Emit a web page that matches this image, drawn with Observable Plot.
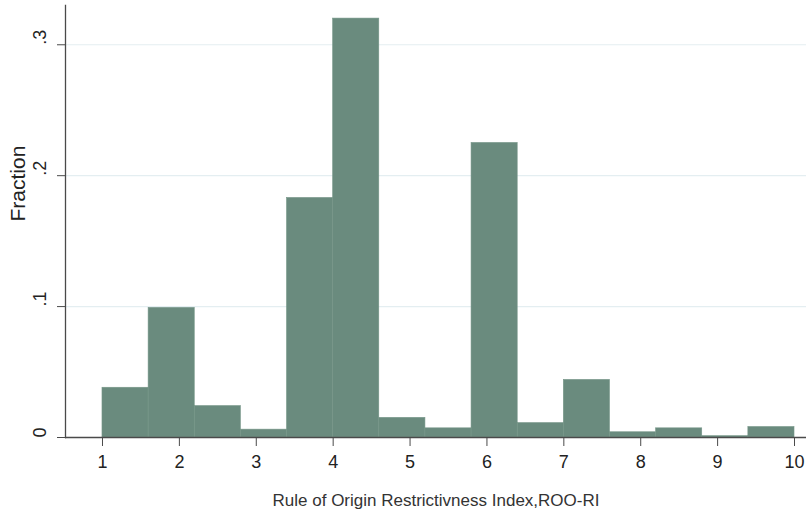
<!DOCTYPE html>
<html><head><meta charset="utf-8">
<script src="https://cdn.jsdelivr.net/npm/d3@7"></script>
<script src="https://cdn.jsdelivr.net/npm/@observablehq/plot@0.6"></script>
<style>body{margin:0;background:#fff}</style>
</head><body><div id="chart"></div>
<script>
const binStart = [1.0, 1.6, 2.2, 2.8, 3.4, 4.0, 4.6, 5.2, 5.8, 6.4, 7.0, 7.6, 8.2, 8.8, 9.4];
const binEnd   = [1.6, 2.2, 2.8, 3.4, 4.0, 4.6, 5.2, 5.8, 6.4, 7.0, 7.6, 8.2, 8.8, 9.4, 10.0];
const fraction = [0.038, 0.099, 0.024, 0.006, 0.183, 0.320, 0.015, 0.007, 0.225, 0.011, 0.044, 0.004, 0.007, 0.001, 0.008];
const xTicks = [1, 2, 3, 4, 5, 6, 7, 8, 9, 10];
const yTicks = [0, 0.1, 0.2, 0.3];
const yTickLabels = ["0", ".1", ".2", ".3"];
const gridTicks = [0.1, 0.2, 0.3];
const xLabel = "Rule of Origin Restrictivness Index,ROO-RI";
const yLabel = "Fraction";

const bins = binStart.map((s, i) => ({x1: s, x2: binEnd[i], y: fraction[i]}));

const chart = Plot.plot({
  width: 806,
  height: 519,
  marginLeft: 65,
  marginRight: 0,
  marginTop: 5,
  marginBottom: 82,
  style: {fontFamily: "'Liberation Sans', Arial, sans-serif", fontSize: "17px", color: "#222", background: "#fff"},
  x: {domain: [0.519, 10.156]},
  y: {domain: [0, 0.33]},
  marks: [
    Plot.ruleY(gridTicks, {stroke: "#e4eef1", strokeWidth: 1.2}),
    Plot.rectY(bins, {x1: "x1", x2: "x2", y: "y", fill: "#6a8b7e", stroke: "#769688", strokeWidth: 0.6}),
    Plot.ruleY([0], {stroke: "#4a4a4a", strokeWidth: 1.3}),
    Plot.frame({anchor: "left", stroke: "#4a4a4a", strokeWidth: 1.3}),
    Plot.axisX({ticks: xTicks, tickSize: 9, tickPadding: 9, tickFormat: d => String(d), label: null, stroke: "#4a4a4a", fontSize: 18}),
    Plot.axisY({ticks: yTicks, tickSize: 8, tickFormat: () => "", label: null, stroke: "#4a4a4a"}),
    Plot.text(yTicks, {y: d => d, text: (d, i) => yTickLabels[i], frameAnchor: "left", dx: -25, rotate: -90, fontSize: 18, fill: "#222"}),
    Plot.text([yLabel], {text: d => d, frameAnchor: "left", dx: -47, rotate: -90, fontSize: 21, fill: "#222"}),
    Plot.text([xLabel], {text: d => d, frameAnchor: "bottom", dy: 68, fontSize: 17, fill: "#333"})
  ]
});
document.getElementById("chart").appendChild(chart);
</script>
</body></html>
